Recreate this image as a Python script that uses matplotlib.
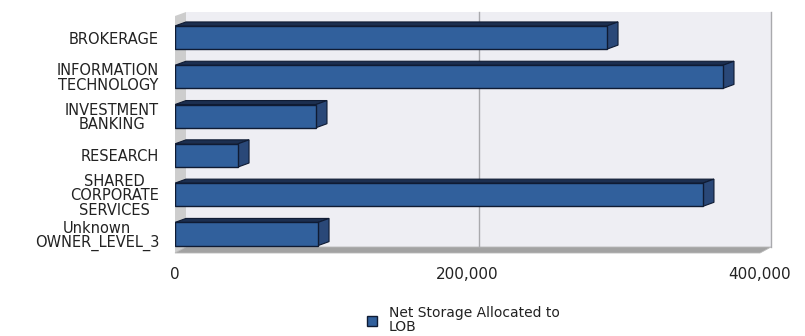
import matplotlib
matplotlib.use("Agg")
import matplotlib.pyplot as plt
from matplotlib.patches import Polygon, Patch
from matplotlib.ticker import FuncFormatter

# values
categories = ["BROKERAGE", "INFORMATION\nTECHNOLOGY", "INVESTMENT\nBANKING",
              "RESEARCH", "SHARED\nCORPORATE\nSERVICES", "Unknown\nOWNER_LEVEL_3"]
storage = [295400, 374700, 96400, 43100, 361000, 97800]
xticks = [0, 200000, 400000]
series_label = "Net Storage Allocated to\nLOB"

plt.rcParams['font.family'] = ['DejaVu Sans']

W, H = 805, 336
fig = plt.figure(figsize=(W / 100, H / 100), dpi=100)
ax = fig.add_axes([175 / W, (H - 253) / H, 585 / W, 241 / H])

xmax = 400000
ymin_top, ymax_bot = -0.65, 5.483
ax.set_xlim(0, xmax)
ax.set_ylim(ymax_bot, ymin_top)

# depth offset for the fake 3d look (11 px right, 4 px up)
dx = 11 / 585 * xmax
dy = 4 / 39.3
floor_dy = 6 / 39.3

wall_col = '#eeeef3'
# back wall
ax.add_patch(Polygon([(dx, ymin_top), (xmax + dx, ymin_top),
                      (xmax + dx, ymax_bot - floor_dy), (dx, ymax_bot - floor_dy)],
                     closed=True, facecolor=wall_col, edgecolor='none', zorder=0,
                     clip_on=False))
# left wall
ax.add_patch(Polygon([(0, ymax_bot), (dx, ymax_bot - floor_dy), (dx, ymin_top),
                      (0, ymin_top + dy)],
                     closed=True, facecolor='#cdcdcd', edgecolor='none', zorder=0.5,
                     clip_on=False))
# floor
ax.add_patch(Polygon([(0, ymax_bot), (xmax, ymax_bot), (xmax + dx, ymax_bot - floor_dy),
                      (dx, ymax_bot - floor_dy)],
                     closed=True, facecolor='#a2a2a2', edgecolor='#b8b8b8', lw=0.6,
                     zorder=0.5, clip_on=False))
# grid lines on back wall (incl. right edge)
for xv in xticks[1:]:
    ax.plot([xv + dx, xv + dx], [ymin_top, ymax_bot - floor_dy], color='#a9a9ad',
            lw=1.0, zorder=0.6, clip_on=False)

# bars
h = 0.59
front = '#31609c'
top_c = '#1c2f50'
side_c = '#2a4878'
edge = '#0f1b33'
ypos = list(range(len(categories)))
ax.barh(ypos, storage, height=h, color=front, edgecolor=edge, linewidth=1.0, zorder=3)
for y, v in zip(ypos, storage):
    t = y - h / 2
    b = y + h / 2
    ax.add_patch(Polygon([(0, t), (v, t), (v + dx, t - dy), (dx, t - dy)], closed=True,
                         facecolor=top_c, edgecolor=edge, lw=0.8, zorder=2.5))
    ax.add_patch(Polygon([(v, t), (v + dx, t - dy), (v + dx, b - dy), (v, b)], closed=True,
                         facecolor=side_c, edgecolor=edge, lw=0.8, zorder=2.5))

for s in ax.spines.values():
    s.set_visible(False)
ax.set_facecolor('none')

ax.set_yticks(ypos)
ax.set_yticklabels(categories)
ax.set_xticks(xticks)
ax.xaxis.set_major_formatter(FuncFormatter(lambda v, p: f'{v:,.0f}'))
ax.tick_params(axis='y', length=0, pad=11.5, labelsize=10.5, labelcolor='#222222')
ax.tick_params(axis='x', length=0, pad=10, labelsize=11, labelcolor='#222222')
for lbl in ax.get_yticklabels():
    lbl.set_multialignment('center')
    lbl.set_linespacing(0.95)

handle = Patch(facecolor=front, edgecolor=edge, linewidth=1.0, label=series_label)
leg = fig.legend(handles=[handle], loc='center left', bbox_to_anchor=(367 / W, 1 - 320 / H),
                 frameon=False, fontsize=10, handlelength=0.75, handleheight=0.75,
                 handletextpad=0.8, borderpad=0, borderaxespad=0)
for txt in leg.get_texts():
    txt.set_linespacing(0.95)
    txt.set_color('#222222')

fig.savefig('out.png', dpi=100)
